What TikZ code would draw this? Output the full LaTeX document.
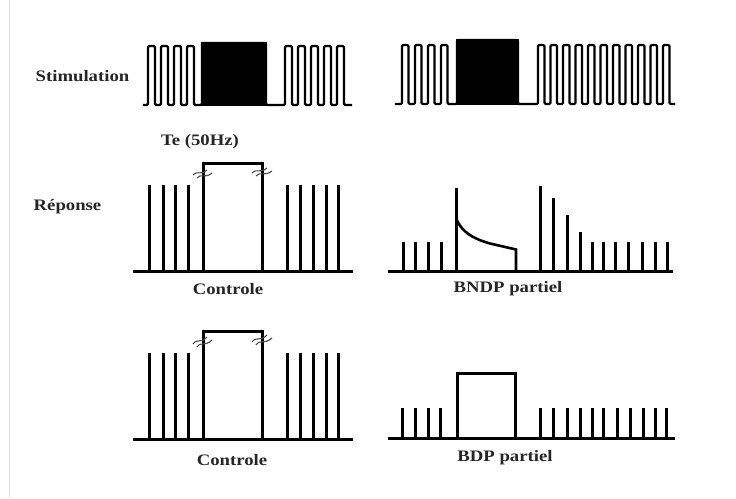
\documentclass[tikz,border=0pt]{standalone}
\usepackage{fontspec}
\newfontfamily\labfont[FakeStretch=1.17]{Liberation Serif}
\begin{document}
\begin{tikzpicture}[x=1pt,y=-1pt,
  lab/.style={font=\labfont\bfseries\fontsize{16}{18}\selectfont, text=black!85, inner sep=0pt},
  stim/.style={line width=2.2pt, line join=round, rounded corners=1.2pt},
  resp/.style={line width=3pt, line join=miter},
  brk/.style={line width=1.1pt, black!70}]
\useasboundingbox (0,0) rectangle (736,498);
\fill[white] (0,0) rectangle (736,498);
\draw[gray!25, line width=1pt] (9,0) -- (9,498);

% labels
\node[lab] (stimlab) at (82.5,76) {Stimulation};
\node[lab] (telab) at (200,141.5) {Te (50Hz)};
\node[lab] (replab) at (67.5,207) {Réponse};
\node[lab] (ctl1) at (228,289) {Controle};
\node[lab] (bndp) at (508,289) {BNDP partiel};
\node[lab] (ctl2) at (232,460) {Controle};
\node[lab] (bdp) at (505,458) {BDP partiel};

% ---------- Stimulation left ----------
\draw[stim] (143,105)
  \foreach \x in {148,161,174,187} { -- (\x,105) -- (\x,46) -- (\x+7,46) -- (\x+7,105) }
  -- (202,105) -- (202,43) -- (266,43) -- (266,105)
  \foreach \x in {285,298,311,324,337} { -- (\x,105) -- (\x,46) -- (\x+7,46) -- (\x+7,105) }
  -- (352,105);
\filldraw[line width=2.2pt, line join=miter] (202,43) rectangle (266,105);

% ---------- Stimulation right ----------
\draw[stim] (395,104)
  \foreach \x in {402,415,428,441} { -- (\x,104) -- (\x,45) -- (\x+6.5,45) -- (\x+6.5,104) }
  -- (457,104) -- (457,40) -- (518,40) -- (518,104)
  \foreach \x in {538,550.5,563,575.5,588,600.5,613,625.5,638,650.5,663} { -- (\x,104) -- (\x,45) -- (\x+6.5,45) -- (\x+6.5,104) }
  -- (675,104);
\filldraw[line width=2.2pt, line join=miter] (457,40) rectangle (518,104);

% ---------- Response controle (top) ----------
\draw[resp] (133,271.5) -- (353,271.5);
\foreach \x in {149,163,175,188,287,300,313,326,338}
  \draw[resp] (\x,271) -- (\x,185);
\draw[resp] (203,271) -- (203,163) -- (262,163) -- (262,271);
\draw[brk] (193,175) .. controls (197,170) and (201,176) .. (207,170);
\draw[brk] (197,178) .. controls (201,173) and (205,179) .. (212,173);
\draw[brk] (252,173) .. controls (256,168) and (260,174) .. (267,168);
\draw[brk] (256,176) .. controls (260,171) and (264,177) .. (272,171);

% ---------- Response BNDP partiel ----------
\draw[resp] (388,271.5) -- (673,271.5);
\foreach \x in {403,415,428,441,592,603,615,628,642,655,667}
  \draw[resp] (\x,271) -- (\x,242);
\draw[resp] (456,271) -- (456,188);
\draw[line width=2.6pt] (456,218) .. controls (461,231) and (471,238) .. (490,243.5) -- (516,249.5) -- (516,271);
\draw[resp] (540,271) -- (540,186);
\draw[resp] (553,271) -- (553,198);
\draw[resp] (567,271) -- (567,215);
\draw[resp] (580,271) -- (580,232);

% ---------- Response controle (bottom) ----------
\draw[resp] (133,439.5) -- (353,439.5);
\foreach \x in {149,163,175,188,287,300,313,326,338}
  \draw[resp] (\x,439) -- (\x,353);
\draw[resp] (203,439) -- (203,331) -- (262,331) -- (262,439);
\draw[brk] (193,344) .. controls (197,338) and (201,344) .. (207,337);
\draw[brk] (197,347) .. controls (201,341) and (205,347) .. (212,340);
\draw[brk] (252,342) .. controls (256,336) and (260,342) .. (267,335);
\draw[brk] (256,345) .. controls (260,339) and (264,345) .. (272,338);

% ---------- Response BDP partiel ----------
\draw[resp] (388,438.5) -- (675,438.5);
\foreach \x in {402,415,428,440,540,553,567,580,592,603,617,630,643,655,666}
  \draw[resp] (\x,438) -- (\x,408);
\draw[resp] (457,438) -- (457,373) -- (515,373) -- (515,438);
\end{tikzpicture}
\end{document}
